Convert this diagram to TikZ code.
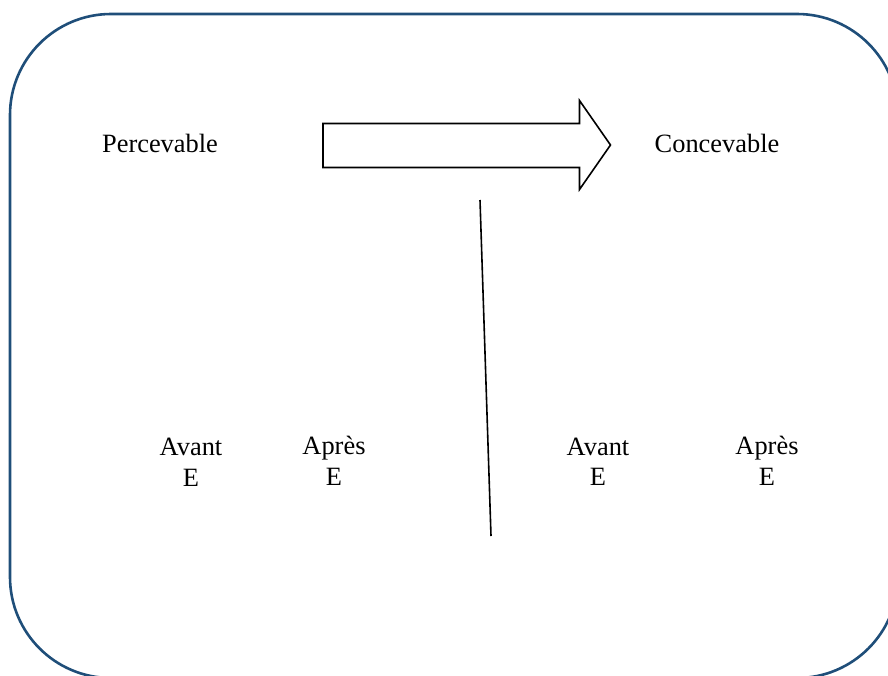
\documentclass[tikz,border=0pt]{standalone}
\usepackage{fontspec}
\setmainfont{Liberation Serif}
\begin{document}
\begin{tikzpicture}[x=0.5pt,y=-0.5pt,
    frame/.style={draw=frameblue,line width=1.3pt,rounded corners=50.5pt},
    blockarrow/.style={draw=black,line width=0.8pt,line join=miter,fill=white},
    divider/.style={draw=black,line width=0.8pt},
    lbl/.style={inner sep=0pt,anchor=base,font=\fontsize{13.2}{15}\selectfont}]
  \definecolor{frameblue}{HTML}{1F4E79}
  \useasboundingbox (0,0) rectangle (888,675);
  % outer rounded frame (runs past the right and bottom edges)
  \begin{scope}
    \clip (0,0) rectangle (888,675);
    \draw[frame] (10,14) rectangle (898,678);
  \end{scope}
  % headings
  \node[lbl] (perc) at (160,152) {Percevable};
  \node[lbl] (conc) at (717,152) {Concevable};
  % block arrow from perceivable to conceivable
  \coordinate (a1) at (323,123.5);
  \coordinate (a2) at (579.5,123.5);
  \coordinate (a3) at (579.5,100.5);
  \coordinate (tip) at (610.5,145);
  \coordinate (a5) at (579.5,189.5);
  \coordinate (a6) at (579.5,167.5);
  \coordinate (a7) at (323,167.5);
  \draw[blockarrow] (a1) -- (a2) -- (a3) -- (tip) -- (a5) -- (a6) -- (a7) -- cycle;
  % dividing line
  \coordinate (dtop) at (480,200);
  \coordinate (dbot) at (491,536);
  \draw[divider] (dtop) -- (dbot);
  % lower labels
  \node[lbl] (av1) at (191,455.5) {Avant};
  \node[lbl] (e1)  at (191,486) {E};
  \node[lbl] (ap1) at (334,454.5) {Après};
  \node[lbl] (e2)  at (334,485) {E};
  \node[lbl] (av2) at (598,455) {Avant};
  \node[lbl] (e3)  at (598,485) {E};
  \node[lbl] (ap2) at (767,454.5) {Après};
  \node[lbl] (e4)  at (767,485) {E};
\end{tikzpicture}
\end{document}
